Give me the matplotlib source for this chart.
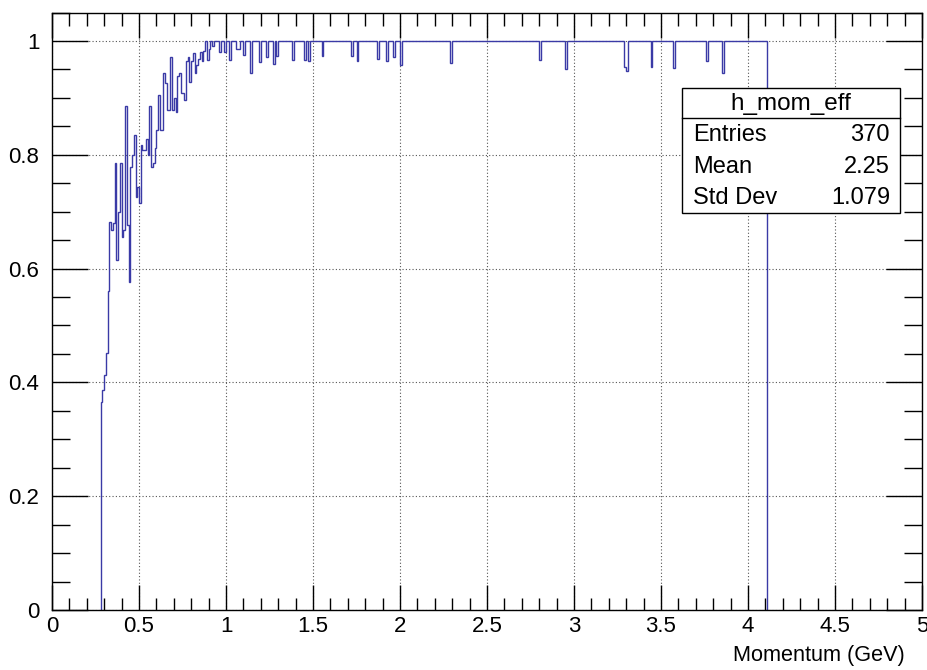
import numpy as np
import matplotlib
matplotlib.use("Agg")
import matplotlib.pyplot as plt
from matplotlib.ticker import MultipleLocator

plt.rcParams['font.family'] = ['Liberation Sans', 'DejaVu Sans']

# ---- data ----
x_start = 0.28
bin_width = 0.01
n_bins = 383  # up to 4.11

rise_values = [0.366, 0.387, 0.413, 0.452, 0.56, 0.681, 0.668, 0.68, 0.786, 0.615,
               0.70, 0.786, 0.656, 0.668, 0.885, 0.677, 0.577, 0.779, 0.80, 0.835,
               0.726, 0.744, 0.715, 0.817, 0.808, 0.808, 0.828, 0.80, 0.885, 0.779,
               0.786, 0.812, 0.844, 0.905, 0.844, 0.844, 0.943, 0.926, 0.879, 0.879,
               0.972, 0.879, 0.90, 0.876, 0.938, 0.943, 0.908, 0.908, 0.896, 0.965,
               0.972, 0.928, 0.965, 0.978, 0.943, 0.958, 0.968, 0.98, 0.964, 0.983,
               1.0, 0.966, 0.985, 1.0, 0.992]

dip_x = [0.96, 0.99, 1.02, 1.06, 1.07, 1.10, 1.14, 1.19, 1.23, 1.27, 1.29, 1.38,
         1.45, 1.47, 1.55, 1.72, 1.75, 1.87, 1.92, 1.96, 2.00, 2.29, 2.80, 2.95,
         3.29, 3.30, 3.44, 3.57, 3.76, 3.85]
dip_val = [0.98, 0.98, 0.967, 0.985, 0.985, 0.975, 0.943, 0.963, 0.972, 0.96, 0.974,
           0.967, 0.966, 0.965, 0.973, 0.973, 0.965, 0.969, 0.965, 0.971, 0.958,
           0.962, 0.966, 0.951, 0.955, 0.947, 0.955, 0.952, 0.965, 0.944]

stats_title = "h_mom_eff"
stats_names = ["Entries", "Mean", "Std Dev"]
stats_values = ["370", "2.25", "1.079"]

# ---- build histogram ----
values = np.ones(n_bins)
values[:len(rise_values)] = rise_values
for xv, v in zip(dip_x, dip_val):
    values[int(round((xv - x_start) / bin_width))] = v
edges = x_start + bin_width * np.arange(n_bins + 1)

W, H = 928, 670
fig = plt.figure(figsize=(W / 100, H / 100), dpi=100)
ax_l, ax_r, ax_b, ax_t = 52, 922, 610, 12.5
ax = fig.add_axes([ax_l / W, 1 - ax_b / H, (ax_r - ax_l) / W, (ax_b - ax_t) / H])

ax.stairs(values, edges, baseline=0, color='#3a3aa6', linewidth=1.0)

ax.set_xlim(0, 5)
ax.set_ylim(0, 1.05)
ax.xaxis.set_major_locator(MultipleLocator(0.5))
ax.xaxis.set_minor_locator(MultipleLocator(0.1))
ax.yaxis.set_major_locator(MultipleLocator(0.2))
ax.yaxis.set_minor_locator(MultipleLocator(0.05))
ax.xaxis.set_major_formatter(matplotlib.ticker.FuncFormatter(lambda v, p: f"{v:g}"))
ax.yaxis.set_major_formatter(matplotlib.ticker.FuncFormatter(lambda v, p: f"{v:g}"))

ax.tick_params(axis='x', which='major', direction='in', length=18, width=1,
               top=True, bottom=True, labelsize=16, pad=4)
ax.tick_params(axis='x', which='minor', direction='in', length=9, width=1,
               top=True, bottom=True)
ax.tick_params(axis='y', which='major', direction='in', length=26, width=1,
               left=True, right=True, labelsize=16, pad=9)
ax.tick_params(axis='y', which='minor', direction='in', length=13, width=1,
               left=True, right=True)
for s in ax.spines.values():
    s.set_linewidth(1.0)
    s.set_color('black')

ax.grid(True, which='major', linestyle=(0, (1, 2)), color='#555555', linewidth=0.8)
ax.set_axisbelow(True)

fig.text(905 / W, 1 - 655 / H, "Momentum (GeV)", ha='right', va='center', fontsize=15.6)

# stats box
bx0, bx1, by0, by1, bdiv = 682, 900, 88, 213, 118
box = plt.Rectangle((bx0 / W, 1 - by1 / H), (bx1 - bx0) / W, (by1 - by0) / H,
                    transform=fig.transFigure, facecolor='white', edgecolor='black',
                    linewidth=1.0, zorder=5)
fig.add_artist(box)
fig.add_artist(plt.Line2D([bx0 / W, bx1 / W], [1 - bdiv / H, 1 - bdiv / H],
                          transform=fig.transFigure, color='black', linewidth=1.0, zorder=6))
fig.text((bx0 + bx1) / 2 / W, 1 - 104 / H, stats_title, ha='center', va='center',
         fontsize=17.5, zorder=7)
row_y = [135, 167, 198]
for name, val, ry in zip(stats_names, stats_values, row_y):
    fig.text(693 / W, 1 - ry / H, name, ha='left', va='center', fontsize=17, zorder=7)
    fig.text(890 / W, 1 - ry / H, val, ha='right', va='center', fontsize=17, zorder=7)

fig.savefig("out.png", dpi=100)
